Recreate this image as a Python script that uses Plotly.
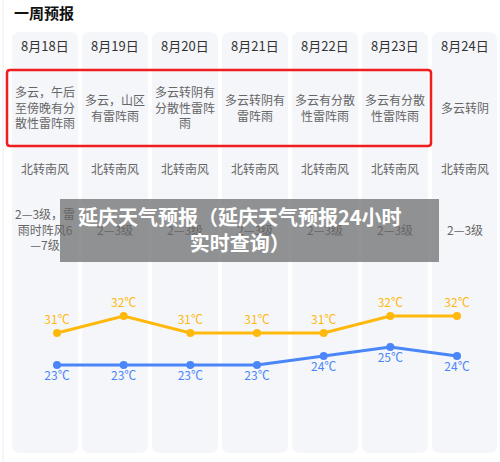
import plotly.graph_objects as go

dates = ["8月18日", "8月19日", "8月20日", "8月21日", "8月22日", "8月23日", "8月24日"]
weather = ["多云，午后<br>至傍晚有分<br>散性雷阵雨", "多云，山区<br>有雷阵雨", "多云转阴有<br>分散性雷阵<br>雨",
           "多云转阴有<br>雷阵雨", "多云有分散<br>性雷阵雨", "多云有分散<br>性雷阵雨", "多云转阴"]
wind_dir = ["北转南风"] * 7
wind_level = ["2—3级，雷<br>雨时阵风6<br>—7级", "2—3级", "2—3级", "2—3级", "2—3级", "2—3级", "2—3级"]
high = [31, 32, 31, 31, 31, 32, 32]
low = [23, 23, 23, 23, 24, 25, 24]

W, H = 500, 462
FONT = "Noto Sans CJK SC"
ORANGE = "#FFB80C"
BLUE = "#4A86F7"

def px(x):
    return x / W

def py(y):
    return 1 - y / H

fig = go.Figure()
idx = list(range(len(dates)))

fig.add_trace(go.Scatter(
    x=idx, y=high, mode="lines+markers+text",
    line=dict(color=ORANGE, width=3), marker=dict(color=ORANGE, size=8),
    text=[f"{v}℃" for v in high], textposition="top center",
    textfont=dict(color=ORANGE, size=12, family=FONT),
    yaxis="y", hoverinfo="skip", cliponaxis=False))
fig.add_trace(go.Scatter(
    x=idx, y=low, mode="lines+markers+text",
    line=dict(color=BLUE, width=3), marker=dict(color=BLUE, size=8),
    text=[f"{v}℃" for v in low], textposition="bottom center",
    textfont=dict(color=BLUE, size=12, family=FONT),
    yaxis="y2", hoverinfo="skip", cliponaxis=False))

shapes = []
ann = []
shapes.append(dict(type="line", xref="paper", yref="paper", x0=px(3), x1=px(3), y0=py(0), y1=py(462),
                   line=dict(color="#ECEDF1", width=1), layer="below"))
for i, d in enumerate(dates):
    x0 = 12 + 70 * i
    x1 = min(x0 + 66, 497)
    cx = x0 + 33
    shapes.append(dict(type="path", xref="paper", yref="paper", layer="below",
                       path=(f"M {px(x0+8)},{py(32)} L {px(x1-8)},{py(32)} Q {px(x1)},{py(32)} {px(x1)},{py(40)} "
                             f"L {px(x1)},{py(445)} Q {px(x1)},{py(453)} {px(x1-8)},{py(453)} "
                             f"L {px(x0+8)},{py(453)} Q {px(x0)},{py(453)} {px(x0)},{py(445)} "
                             f"L {px(x0)},{py(40)} Q {px(x0)},{py(32)} {px(x0+8)},{py(32)} Z"),
                       fillcolor="#F5F6FA", line=dict(width=0)))
    ann.append(dict(x=px(cx), y=py(46), xref="paper", yref="paper", text=d, showarrow=False,
                    font=dict(size=13, color="#333333", family=FONT), xanchor="center", yanchor="middle"))
    ann.append(dict(x=px(cx), y=py(107), xref="paper", yref="paper", text=weather[i], showarrow=False,
                    font=dict(size=12, color="#666666", family=FONT), xanchor="center", yanchor="middle"))
    ann.append(dict(x=px(cx), y=py(168), xref="paper", yref="paper", text=wind_dir[i], showarrow=False,
                    font=dict(size=12, color="#666666", family=FONT), xanchor="center", yanchor="middle"))
    ann.append(dict(x=px(cx), y=py(229), xref="paper", yref="paper", text=wind_level[i], showarrow=False,
                    font=dict(size=12, color="#666666", family=FONT), xanchor="center", yanchor="middle"))

shapes.append(dict(type="path", xref="paper", yref="paper", layer="above",
                   path=(f"M {px(10)},{py(70)} L {px(428)},{py(70)} Q {px(431)},{py(70)} {px(431)},{py(73)} "
                         f"L {px(431)},{py(143)} Q {px(431)},{py(146)} {px(428)},{py(146)} "
                         f"L {px(10)},{py(146)} Q {px(7)},{py(146)} {px(7)},{py(143)} "
                         f"L {px(7)},{py(73)} Q {px(7)},{py(70)} {px(10)},{py(70)} Z"),
                   line=dict(color="#F01E1E", width=2.5)))
shapes.append(dict(type="rect", xref="paper", yref="paper", layer="above",
                   x0=px(60), x1=px(439), y0=py(199), y1=py(262),
                   fillcolor="rgba(105,105,105,0.72)", line=dict(width=0)))
ann.append(dict(x=px(240), y=py(229), xref="paper", yref="paper",
                text="延庆天气预报（延庆天气预报24小时<br>实时查询）", showarrow=False,
                font=dict(size=20, color="white", family=FONT, weight="bold"),
                xanchor="center", yanchor="middle", align="center"))
ann.append(dict(x=px(12), y=py(13), xref="paper", yref="paper", text="<b>一周预报</b>", showarrow=False,
                font=dict(size=15, color="#111111", family=FONT), xanchor="left", yanchor="middle"))

x_first, x_step = 57, 200 / 3
xa = -x_first / x_step
xb = xa + W / x_step
hy, hs = 333, 17
ly, ls = 365, 9
yr = [31 - (H - hy) / hs, 31 + hy / hs]
y2r = [23 - (H - ly) / ls, 23 + ly / ls]

fig.update_layout(
    width=W, height=H, margin=dict(l=0, r=0, t=0, b=0),
    paper_bgcolor="white", plot_bgcolor="rgba(0,0,0,0)",
    showlegend=False, shapes=shapes, annotations=ann,
    xaxis=dict(range=[xa, xb], visible=False, fixedrange=True),
    yaxis=dict(range=yr, visible=False, fixedrange=True),
    yaxis2=dict(range=y2r, visible=False, overlaying="y", fixedrange=True),
)
fig.write_html("out.html", config={"displayModeBar": False},
               post_script="document.body.style.margin='0';document.body.style.overflow='hidden';")
